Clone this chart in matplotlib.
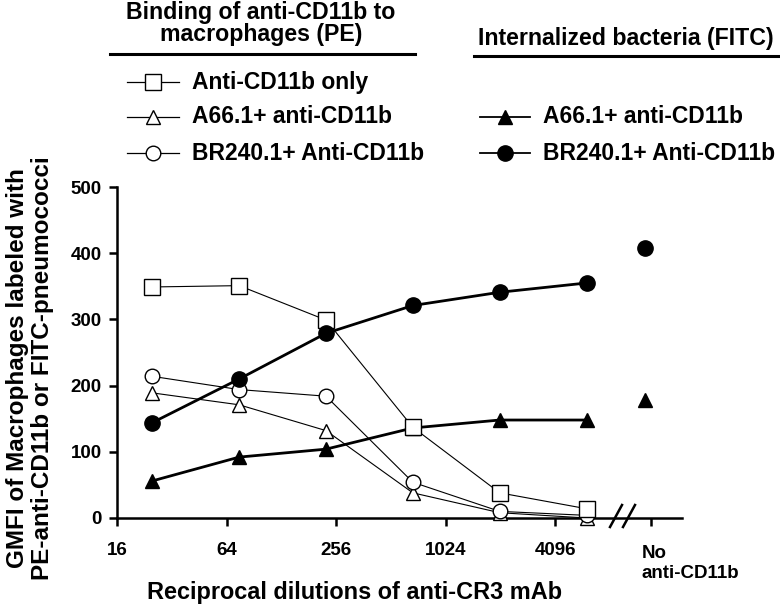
import matplotlib
matplotlib.use('Agg')
import matplotlib.pyplot as plt
from matplotlib.lines import Line2D
from matplotlib.ticker import NullLocator

plt.rcParams['font.family'] = ['Liberation Sans', 'DejaVu Sans']
plt.rcParams['font.weight'] = 'bold'

## Data
dilutions = [25, 75, 225, 675, 2025, 6075]
x_ticks = [16, 64, 256, 1024, 4096]
x_ticklabels = ['16', '64', '256', '1024', '4096']
no_label = 'No\nanti-CD11b'
x_no = 12800        # where the "no anti-CD11b" controls sit
x_no_tick = 13700

pe_cd11b_only = [349, 351, 299, 137, 38, 14]
pe_a66 = [189, 171, 132, 38, 8, 0]
pe_br240 = [214, 194, 184, 54, 10, 4]
fitc_a66 = [56, 92, 104, 136, 148, 148]
fitc_br240 = [144, 210, 279, 321, 341, 355]
fitc_a66_no = 178
fitc_br240_no = 408

W, H = 780, 605
def fx(px):
    return px / W
def fy(py):
    return 1 - py / H

fig = plt.figure(figsize=(7.8, 6.05), dpi=100)
ax = fig.add_axes([fx(117), fy(518), 565 / W, 331 / H])

thin = dict(color='black', lw=0.8, mec='black', mfc='white', mew=1.0, clip_on=False)
thick = dict(color='black', lw=2.0, mec='black', mfc='black', clip_on=False)

ax.plot(dilutions, pe_a66, marker='^', ms=10, zorder=3, **thin)
ax.plot(dilutions, pe_br240, marker='o', ms=10.5, zorder=3, **thin)
ax.plot(dilutions, fitc_a66, marker='^', ms=10, zorder=4, **thick)
ax.plot(dilutions, pe_cd11b_only, marker='s', ms=11, zorder=5, **thin)
ax.plot(dilutions, fitc_br240, marker='o', ms=11, zorder=6, **thick)
ax.plot([x_no], [fitc_a66_no], marker='^', ms=10, ls='none', **thick)
ax.plot([x_no], [fitc_br240_no], marker='o', ms=11, ls='none', **thick)

ax.set_xscale('log', base=2)
ax.set_xlim(16, 16 * 2 ** (565 / 54.8))
ax.set_ylim(0, 500)
ax.set_xticks(x_ticks + [x_no_tick])
ax.set_xticklabels(x_ticklabels + [''])
ax.xaxis.set_minor_locator(NullLocator())
ax.set_yticks([0, 100, 200, 300, 400, 500])

for s in ['top', 'right']:
    ax.spines[s].set_visible(False)
for s in ['left', 'bottom']:
    ax.spines[s].set_linewidth(1.8)
ax.tick_params(axis='x', direction='out', length=6, width=1.8, labelsize=13.5, pad=11)
ax.tick_params(axis='y', direction='out', length=6, width=1.8, labelsize=13.5, pad=5)

ax.annotate(no_label, xy=(x_no_tick, 0), xycoords=('data', 'axes fraction'),
            xytext=(-9, -27), textcoords='offset pixels', ha='left', va='top',
            fontsize=13.5, linespacing=1.25)

# axis break marks
for x0 in [610, 623]:
    fig.add_artist(Line2D([fx(x0), fx(x0 + 12)], [fy(527), fy(505)],
                          transform=fig.transFigure, color='black', lw=1.8))

fig.text(fx(30), fy(368), 'GMFI of Macrophages labeled with\nPE-anti-CD11b or FITC-pneumococci',
         rotation=90, ha='center', va='center', fontsize=17.5, linespacing=1.15)
fig.text(fx(355), fy(599), 'Reciprocal dilutions of anti-CR3 mAb',
         ha='center', va='baseline', fontsize=16.9)

## Legend headers
fig.text(fx(261), fy(13), 'Binding of anti-CD11b to', ha='center', va='center', fontsize=16.7)
fig.text(fx(261), fy(34), 'macrophages (PE)', ha='center', va='center', fontsize=16.7)
fig.text(fx(626), fy(39), 'Internalized bacteria (FITC)', ha='center', va='center', fontsize=16.7)
fig.add_artist(Line2D([fx(110), fx(415)], [fy(54), fy(54)], transform=fig.transFigure,
                      color='black', lw=2.2))
fig.add_artist(Line2D([fx(474), fx(780)], [fy(56), fy(56)], transform=fig.transFigure,
                      color='black', lw=2.2))

## Legend entries
entries = [
    (127, 153, 82, 's', 11, thin, 'Anti-CD11b only'),
    (127, 153, 117, '^', 10, thin, 'A66.1+ anti-CD11b'),
    (127, 153, 153, 'o', 10.5, thin, 'BR240.1+ Anti-CD11b'),
    (480, 505, 117, '^', 10, thick, 'A66.1+ anti-CD11b'),
    (480, 505, 153, 'o', 11, thick, 'BR240.1+ Anti-CD11b'),
]
for x1, xm, y, m, ms, st, lab in entries:
    kw = dict(st)
    kw['lw'] = 0.9 if st is thin else 1.3
    kw.pop('clip_on')
    fig.add_artist(Line2D([fx(x1), fx(xm), fx(2 * xm - x1)], [fy(y)] * 3,
                          transform=fig.transFigure, marker=m, ms=ms, markevery=[1], **kw))
    fig.text(fx(2 * xm - x1 + 13), fy(y), lab, ha='left', va='center', fontsize=16.5)

fig.savefig('out.png', dpi=100)
